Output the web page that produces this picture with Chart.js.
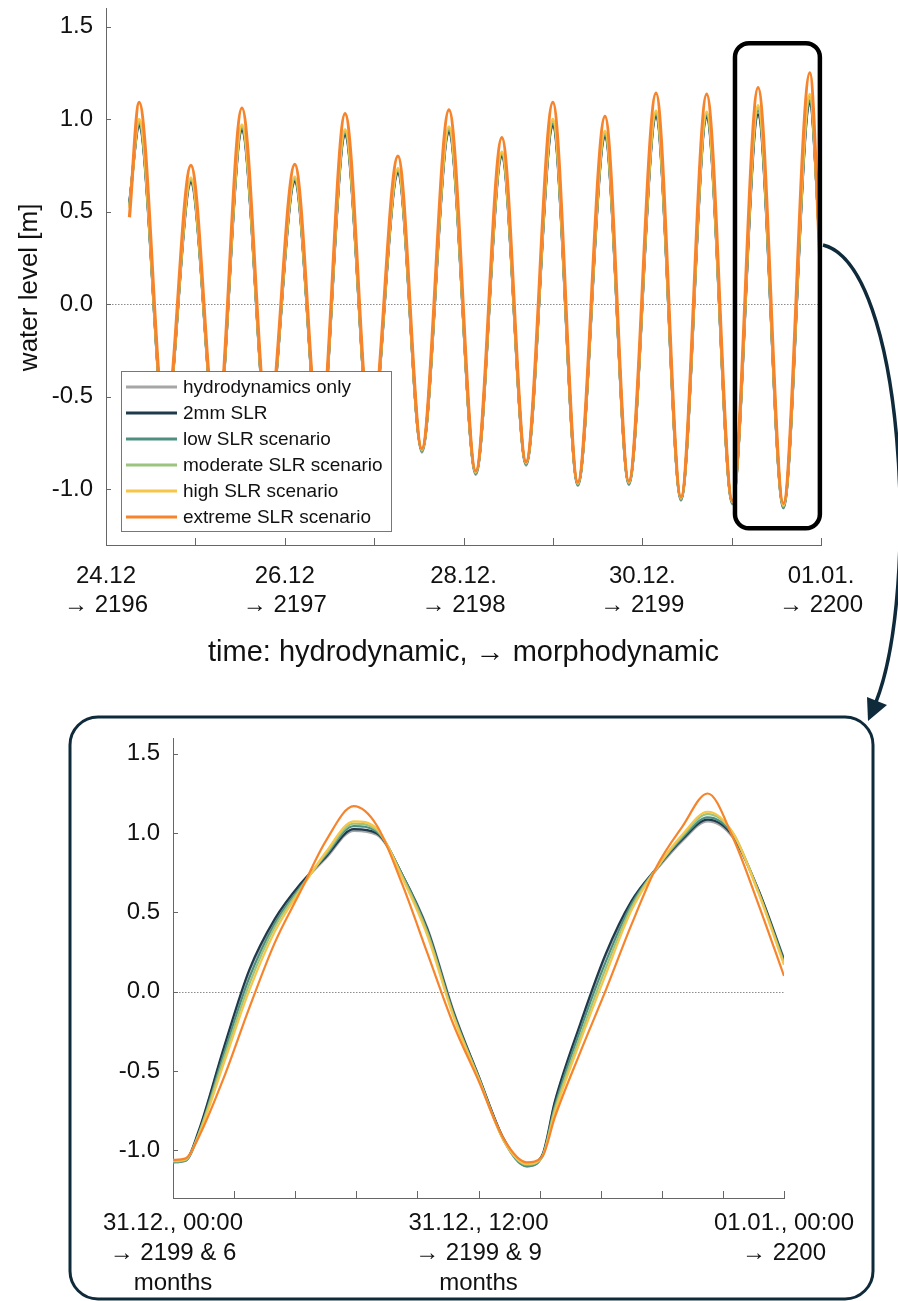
<!DOCTYPE html>
<html>
<head>
<meta charset="utf-8">
<script src="https://cdn.jsdelivr.net/npm/chart.js@4.4.1/dist/chart.umd.min.js"></script>
<style>
  html, body { margin: 0; padding: 0; background: #fff; }
  #page { position: relative; width: 898px; height: 1301px; overflow: hidden; }
  #topWrap { position: absolute; left: 0; top: 0; width: 898px; height: 690px; }
  #zoomWrap { position: absolute; left: 75px; top: 722px; width: 790px; height: 579px; }
  #overlay { position: absolute; left: 0; top: 0; pointer-events: none; }
</style>
</head>
<body>
<div id="page">
  <div id="topWrap"><canvas id="tideChart" width="898" height="690"></canvas></div>
  <div id="zoomWrap"><canvas id="zoomChart" width="790" height="579"></canvas></div>
  <svg id="overlay" width="898" height="1301">
    <!-- frame of the zoomed panel -->
    <rect x="70" y="717" width="803" height="582" rx="28" ry="28" fill="none" stroke="#0f2b3b" stroke-width="3"/>
    <!-- connector from the marked day down to the zoomed panel -->
    <path d="M 823 245 C 905 265, 920 590, 876 702" fill="none" stroke="#0f2b3b" stroke-width="3.5"/>
    <polygon points="868,721 867,697 887,705" fill="#0f2b3b"/>
  </svg>
</div>

<script>
const FONT = '"Liberation Sans", Arial, Helvetica, sans-serif';

const seriesNames = [
  'hydrodynamics only',
  '2mm SLR',
  'low SLR scenario',
  'moderate SLR scenario',
  'high SLR scenario',
  'extreme SLR scenario'
];
const seriesColors = ['#a6a6a6', '#1e3a4c', '#4e8f80', '#9cc47e', '#f7c548', '#f6842c'];

// overview: hours since 24.12. 00:00, sampled at high and low waters
const topHours = [6.3, 8.9, 15.9, 22.8, 29.7, 36.5, 43.5, 50.7, 57.4, 64.2, 71.1, 78.4, 84.8, 92.1,
  99.3, 106.3, 112.8, 120.0, 126.7, 134.0, 140.4, 147.7, 154.4, 161.3, 168.2, 175.1, 181.9, 189.0, 192];
const topHydro = [0.55, 0.955, -0.68, 0.65, -0.74, 0.93, -0.70, 0.655, -0.77, 0.905, -0.74, 0.70, -0.80, 0.92,
  -0.92, 0.79, -0.87, 0.955, -0.98, 0.895, -0.975, 1.005, -1.06, 1.00, -1.08, 1.015, -1.10, 1.075, 0.21];
const top2mm = [0.55, 0.965, -0.67, 0.66, -0.73, 0.94, -0.69, 0.665, -0.76, 0.915, -0.73, 0.71, -0.79, 0.93,
  -0.91, 0.80, -0.86, 0.965, -0.97, 0.905, -0.965, 1.015, -1.05, 1.01, -1.07, 1.025, -1.09, 1.085, 0.20];
const topLow = [0.54, 0.975, -0.675, 0.67, -0.735, 0.95, -0.695, 0.675, -0.765, 0.925, -0.735, 0.72, -0.795, 0.94,
  -0.915, 0.81, -0.865, 0.975, -0.975, 0.915, -0.97, 1.025, -1.055, 1.02, -1.075, 1.045, -1.10, 1.10, 0.19];
const topModerate = [0.53, 0.985, -0.67, 0.675, -0.73, 0.96, -0.69, 0.68, -0.76, 0.935, -0.73, 0.725, -0.79, 0.95,
  -0.91, 0.815, -0.86, 0.99, -0.97, 0.925, -0.965, 1.035, -1.05, 1.03, -1.07, 1.06, -1.09, 1.12, 0.18];
const topHigh = [0.52, 1.00, -0.665, 0.685, -0.725, 0.97, -0.685, 0.69, -0.755, 0.945, -0.725, 0.735, -0.785, 0.96,
  -0.905, 0.825, -0.855, 1.00, -0.965, 0.935, -0.96, 1.045, -1.045, 1.04, -1.065, 1.075, -1.085, 1.135, 0.17];
const topExtreme = [0.47, 1.09, -0.66, 0.75, -0.72, 1.06, -0.68, 0.755, -0.75, 1.03, -0.72, 0.80, -0.78, 1.05,
  -0.90, 0.90, -0.85, 1.09, -0.96, 1.015, -0.955, 1.14, -1.04, 1.135, -1.06, 1.17, -1.075, 1.25, 0.10];

const topTickHours = [0, 24, 48, 72, 96, 120, 144, 168, 192];
const topLabelHours = [0, 48, 96, 144, 192];
const topTickLabels = [
  ['24.12', '\u2192 2196'],
  ['26.12', '\u2192 2197'],
  ['28.12.', '\u2192 2198'],
  ['30.12.', '\u2192 2199'],
  ['01.01.', '\u2192 2200']
];

// zoom: hours since 31.12. 00:00
const zoomHours = [0, 0.5, 1, 2, 3, 4, 5, 6, 7.1, 8, 9, 10, 11, 12, 13, 13.9, 14.5,
  15, 16, 17, 18, 19, 20, 21, 22, 23, 24];
const zoomHydro = [-1.075, -1.065, -0.89, -0.36, 0.13, 0.45, 0.67, 0.84, 1.015, 0.99, 0.74, 0.40, -0.11, -0.53,
  -0.93, -1.10, -1.04, -0.70, -0.21, 0.23, 0.56, 0.77, 0.95, 1.075, 0.97, 0.64, 0.21];
const zoom2mm = [-1.07, -1.06, -0.88, -0.35, 0.14, 0.46, 0.68, 0.85, 1.025, 1.00, 0.74, 0.39, -0.12, -0.53,
  -0.93, -1.09, -1.03, -0.69, -0.20, 0.24, 0.57, 0.78, 0.96, 1.085, 0.98, 0.64, 0.20];
const zoomLow = [-1.075, -1.065, -0.90, -0.39, 0.09, 0.43, 0.66, 0.86, 1.045, 1.01, 0.74, 0.38, -0.13, -0.54,
  -0.94, -1.10, -1.04, -0.72, -0.24, 0.19, 0.55, 0.78, 0.97, 1.10, 0.99, 0.63, 0.19];
const zoomModerate = [-1.07, -1.06, -0.90, -0.42, 0.05, 0.41, 0.65, 0.87, 1.06, 1.02, 0.73, 0.37, -0.14, -0.54,
  -0.94, -1.09, -1.04, -0.74, -0.28, 0.15, 0.53, 0.78, 0.98, 1.12, 1.00, 0.63, 0.18];
const zoomHigh = [-1.065, -1.055, -0.91, -0.45, 0.01, 0.38, 0.64, 0.88, 1.075, 1.03, 0.72, 0.35, -0.15, -0.55,
  -0.94, -1.085, -1.04, -0.76, -0.31, 0.11, 0.51, 0.78, 0.99, 1.135, 1.00, 0.62, 0.17];
const zoomExtreme = [-1.06, -1.05, -0.92, -0.54, -0.10, 0.31, 0.63, 0.95, 1.17, 1.05, 0.68, 0.24, -0.20, -0.56,
  -0.93, -1.075, -1.04, -0.79, -0.38, 0.01, 0.42, 0.79, 1.04, 1.25, 0.97, 0.55, 0.10];

const zoomTickHours = [0, 2.4, 4.8, 7.2, 9.6, 12, 14.4, 16.8, 19.2, 21.6, 24];
const zoomLabelHours = [0, 12, 24];
const zoomTickLabels = [
  ['31.12., 00:00', '\u2192 2199 & 6', 'months'],
  ['31.12., 12:00', '\u2192 2199 & 9', 'months'],
  ['01.01., 00:00', '\u2192 2200']
];

const levelTicks = [-1.0, -0.5, 0.0, 0.5, 1.0, 1.5];

// day shown in the zoom, marked in the overview
const markedHours = [168.9, 191.7];
const markedLevels = [-1.21, 1.41];

function toPoints(hours, values) {
  return hours.map((h, i) => ({ x: h, y: values[i] }));
}

function makeDatasets(hours, columns, width, extremeWidth) {
  return columns.map((vals, i) => ({
    label: seriesNames[i],
    data: toPoints(hours, vals),
    borderColor: seriesColors[i],
    borderWidth: i === 5 ? extremeWidth : width,
    order: 5 - i,
    pointRadius: 0,
    fill: false
  }));
}

// scale boxes get fixed sizes so both plot areas sit where they should
function fixHeight(h) {
  return s => { s.height = h; s.paddingLeft = 0; s.paddingRight = 0; };
}
function fixWidth(w) {
  return s => { s.width = w; s.paddingTop = 0; s.paddingBottom = 0; };
}

// dotted zero line and inward ticks
const matlabAxes = {
  id: 'matlabAxes',
  beforeDatasetsDraw(chart) {
    const { ctx, chartArea: a, scales: { y } } = chart;
    const y0 = Math.round(y.getPixelForValue(0)) + 0.5;
    ctx.save();
    ctx.strokeStyle = '#8c8c8c';
    ctx.lineWidth = 1;
    ctx.setLineDash([1.5, 1.5]);
    ctx.beginPath();
    ctx.moveTo(a.left, y0);
    ctx.lineTo(a.right, y0);
    ctx.stroke();
    ctx.restore();
  },
  afterDraw(chart) {
    const { ctx, chartArea: a, scales: { x, y } } = chart;
    ctx.save();
    ctx.strokeStyle = '#666';
    ctx.lineWidth = 1;
    ctx.beginPath();
    x.ticks.forEach(t => {
      const px = Math.round(x.getPixelForValue(t.value)) + 0.5;
      ctx.moveTo(px, a.bottom);
      ctx.lineTo(px, a.bottom - 7);
    });
    y.ticks.forEach(t => {
      const py = Math.round(y.getPixelForValue(t.value)) + 0.5;
      ctx.moveTo(a.left, py);
      ctx.lineTo(a.left + 5, py);
    });
    ctx.stroke();
    ctx.restore();
  }
};

// legend box inside the overview plus the frame around the zoomed day
const overviewExtras = {
  id: 'overviewExtras',
  afterDatasetsDraw(chart) {
    const { ctx, chartArea: a, scales: { x, y } } = chart;
    ctx.save();

    const lx = a.left + 15, lw = 270, lh = 160;
    const ly = a.bottom - 14 - lh;
    ctx.fillStyle = '#fff';
    ctx.fillRect(lx, ly, lw, lh);
    ctx.strokeStyle = '#777';
    ctx.lineWidth = 1;
    ctx.strokeRect(lx + 0.5, ly + 0.5, lw, lh);
    ctx.font = '19px ' + FONT;
    ctx.textBaseline = 'middle';
    ctx.fillStyle = '#111';
    seriesNames.forEach((name, i) => {
      const ry = ly + 16 + i * 26;
      ctx.strokeStyle = seriesColors[i];
      ctx.lineWidth = 3;
      ctx.beginPath();
      ctx.moveTo(lx + 5, ry);
      ctx.lineTo(lx + 56, ry);
      ctx.stroke();
      ctx.fillText(name, lx + 62, ry + 1);
    });

    const bx0 = x.getPixelForValue(markedHours[0]);
    const bx1 = x.getPixelForValue(markedHours[1]);
    const by0 = y.getPixelForValue(markedLevels[1]);
    const by1 = y.getPixelForValue(markedLevels[0]);
    ctx.strokeStyle = '#000';
    ctx.lineWidth = 4.5;
    ctx.beginPath();
    ctx.roundRect(bx0, by0, bx1 - bx0, by1 - by0, 14);
    ctx.stroke();
    ctx.restore();
  }
};

function axisFont(size, lineHeight) {
  return { family: FONT, size: size, lineHeight: lineHeight };
}

new Chart(document.getElementById('tideChart'), {
  type: 'line',
  data: {
    datasets: makeDatasets(topHours,
      [topHydro, top2mm, topLow, topModerate, topHigh, topExtreme], 2.6, 3.2)
  },
  options: {
    responsive: false,
    animation: false,
    events: [],
    layout: { padding: { top: 8, right: 77, left: 0, bottom: 0 } },
    elements: { line: { cubicInterpolationMode: 'monotone', borderJoinStyle: 'round' } },
    plugins: { legend: { display: false }, tooltip: { enabled: false } },
    scales: {
      x: {
        type: 'linear',
        min: 0,
        max: 192,
        grid: { display: false, drawTicks: false },
        border: { color: '#666', width: 1 },
        afterBuildTicks: s => { s.ticks = topTickHours.map(v => ({ value: v })); },
        afterFit: fixHeight(145),
        ticks: {
          autoSkip: false,
          maxRotation: 0,
          padding: 17,
          color: '#111',
          font: axisFont(24, 1.2),
          callback: v => {
            const i = topLabelHours.indexOf(v);
            return i >= 0 ? topTickLabels[i] : '';
          }
        },
        title: {
          display: true,
          text: 'time: hydrodynamic, \u2192 morphodynamic',
          color: '#111',
          font: axisFont(29, 1.2),
          padding: { bottom: 20 }
        }
      },
      y: {
        min: -1.3,
        max: 1.6,
        grid: { display: false, drawTicks: false },
        border: { color: '#666', width: 1 },
        afterBuildTicks: s => { s.ticks = levelTicks.map(v => ({ value: v })); },
        afterFit: fixWidth(106),
        ticks: {
          padding: 13,
          color: '#111',
          font: axisFont(24, 1.2),
          callback: v => v.toFixed(1)
        },
        title: {
          display: true,
          text: 'water level [m]   ',
          color: '#111',
          font: axisFont(26, 1.2),
          padding: { top: 14 }
        }
      }
    }
  },
  plugins: [matlabAxes, overviewExtras]
});

new Chart(document.getElementById('zoomChart'), {
  type: 'line',
  data: {
    datasets: makeDatasets(zoomHours,
      [zoomHydro, zoom2mm, zoomLow, zoomModerate, zoomHigh, zoomExtreme], 2.2, 2.2)
  },
  options: {
    responsive: false,
    animation: false,
    events: [],
    layout: { padding: { top: 16, right: 81, left: 0, bottom: 0 } },
    elements: { line: { cubicInterpolationMode: 'monotone', borderJoinStyle: 'round' } },
    plugins: { legend: { display: false }, tooltip: { enabled: false } },
    scales: {
      x: {
        type: 'linear',
        min: 0,
        max: 24,
        grid: { display: false, drawTicks: false },
        border: { color: '#666', width: 1 },
        afterBuildTicks: s => { s.ticks = zoomTickHours.map(v => ({ value: v })); },
        afterFit: fixHeight(103),
        ticks: {
          autoSkip: false,
          maxRotation: 0,
          padding: 10,
          color: '#111',
          font: axisFont(24, 1.25),
          callback: v => {
            const i = zoomLabelHours.indexOf(v);
            return i >= 0 ? zoomTickLabels[i] : '';
          }
        }
      },
      y: {
        min: -1.3,
        max: 1.6,
        grid: { display: false, drawTicks: false },
        border: { color: '#666', width: 1 },
        afterBuildTicks: s => { s.ticks = levelTicks.map(v => ({ value: v })); },
        afterFit: fixWidth(98),
        ticks: {
          padding: 13,
          color: '#111',
          font: axisFont(24, 1.2),
          callback: v => v.toFixed(1)
        }
      }
    }
  },
  plugins: [matlabAxes]
});
</script>
</body>
</html>
